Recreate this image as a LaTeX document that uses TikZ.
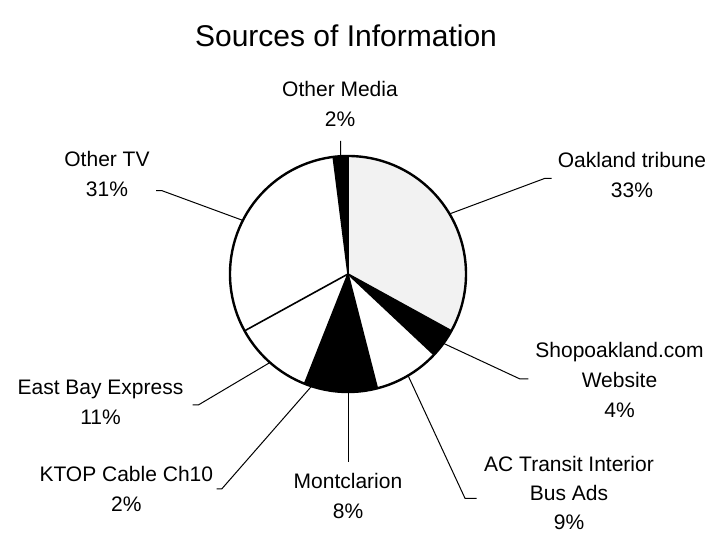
\documentclass[tikz,border=0pt]{standalone}
\usepackage{fontspec}
\setmainfont{Liberation Sans}
\usetikzlibrary{calc}
\begin{document}
\begin{tikzpicture}[x=1pt,y=1pt,
  lbl/.style={font=\fontsize{21}{30}\selectfont, align=center, anchor=north, inner sep=0pt},
  leader/.style={line width=1pt, line join=miter},
  divider/.style={line width=1.6pt},
  rim/.style={line width=2.4pt}]
\useasboundingbox[fill=white] (0,0) rectangle (715,537);
\coordinate (C) at (348,263);
\def\R{118}
% slices
\foreach \a/\b/\f in {90/-28.8/gray!10, -28.8/-43.2/black, -43.2/-75.6/white,
  -75.6/-104.4/black, -104.4/-111.6/black, -111.6/-151.2/white,
  -151.2/-262.8/white, -262.8/-270/black}
  \fill[\f] (C) -- +(\a:\R) arc[start angle=\a, end angle=\b, radius=\R] -- cycle;
\foreach \a in {90,-28.8,-43.2,-75.6,-104.4,-111.6,-151.2,-262.8}
  \draw[divider] (C) -- +(\a:\R);
\draw[rim] (C) circle[radius=\R];
% title
\node[font=\fontsize{30}{36}\selectfont, anchor=base, inner sep=0pt] (title) at (346,490) {Sources of Information};
% labels
\node[lbl] (om)  at (340,455.5) {Other Media\\2\%};
\node[lbl] (oak) at (632,385) {Oakland tribune\\33\%};
\node[lbl] (otv) at (107,385.6) {Other TV\\31\%};
\node[lbl] (shop) at (619.5,195) {Shopoakland.com\\Website\\4\%};
\node[lbl, font=\fontsize{21}{29}\selectfont] (ac) at (569,81) {AC Transit Interior\\Bus Ads\\9\%};
\node[lbl] (mont) at (348,64) {Montclarion\\8\%};
\node[lbl] (ktop) at (126.3,71) {KTOP Cable Ch10\\2\%};
\node[lbl] (eb) at (100.5,157) {East Bay Express\\11\%};
% leader coordinates
\coordinate (omS) at ($(C)+(93.6:\R)$);   \coordinate (omE) at (340.6,396);
\coordinate (oakS) at ($(C)+(30.6:\R)$);  \coordinate (oakM) at (545,358.7);  \coordinate (oakE) at (551.7,358.7);
\coordinate (shopS) at ($(C)+(-36:\R)$);  \coordinate (shopM) at (520,158);   \coordinate (shopE) at (528.3,158);
\coordinate (acS) at ($(C)+(-59.4:\R)$);  \coordinate (acM) at (465,38.7);    \coordinate (acE) at (476.7,38.7);
\coordinate (montS) at ($(C)+(-90:\R)$);  \coordinate (montE) at (348,75.3);
\coordinate (ktopS) at ($(C)+(-108:\R)$); \coordinate (ktopM) at (221.7,48);  \coordinate (ktopE) at (216.7,48);
\coordinate (ebS) at ($(C)+(-131.4:\R)$); \coordinate (ebM) at (198.3,132);   \coordinate (ebE) at (192.7,132);
\coordinate (otvS) at ($(C)+(153:\R)$);   \coordinate (otvM) at (162,346.3);  \coordinate (otvE) at (156,346.3);
% leaders
\draw[leader] (omS) -- (omE);
\draw[leader] (oakS) -- (oakM) -- (oakE);
\draw[leader] (shopS) -- (shopM) -- (shopE);
\draw[leader] (acS) -- (acM) -- (acE);
\draw[leader] (montS) -- (montE);
\draw[leader] (ktopS) -- (ktopM) -- (ktopE);
\draw[leader] (ebS) -- (ebM) -- (ebE);
\draw[leader] (otvS) -- (otvM) -- (otvE);
\end{tikzpicture}
\end{document}
